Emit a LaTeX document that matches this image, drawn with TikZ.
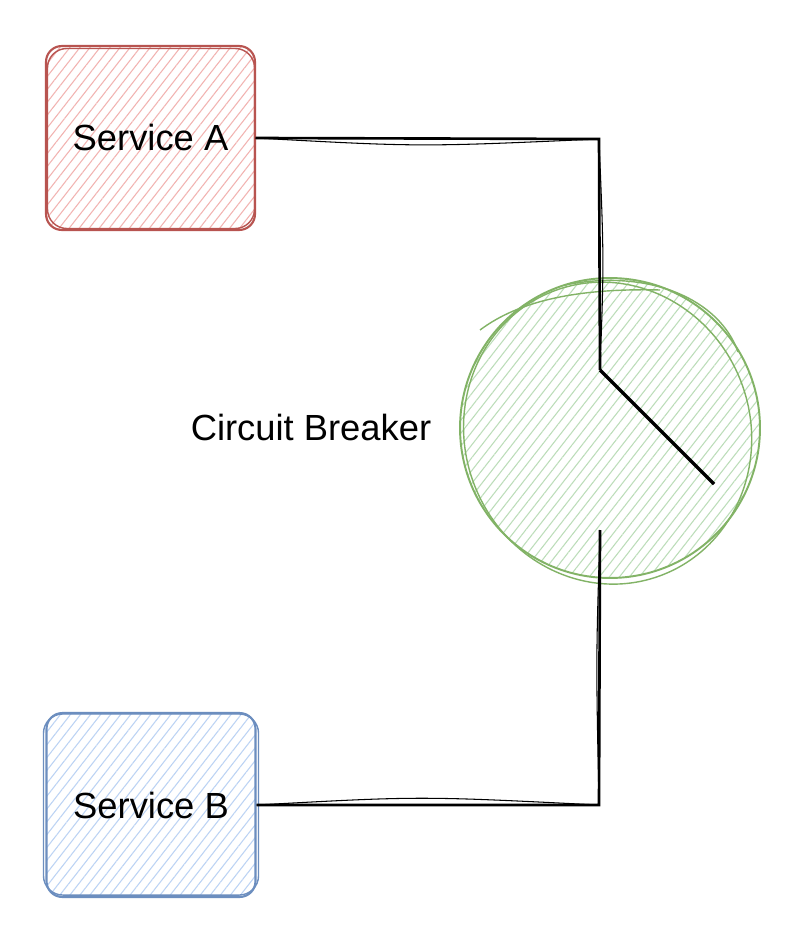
\documentclass[tikz,border=0pt]{standalone}
\usepackage{fontspec}
\setmainfont{Liberation Sans}
\usetikzlibrary{patterns.meta}
\definecolor{redline}{HTML}{B85450}
\definecolor{redfill}{HTML}{F2B3B1}
\definecolor{blueline}{HTML}{6C8EBF}
\definecolor{bluefill}{HTML}{BCD3F4}
\definecolor{greenline}{HTML}{82B366}
\definecolor{greenfill}{HTML}{BCDDB9}
\newcommand{\labelfont}{\fontsize{20.7pt}{24pt}\selectfont}

\begin{document}
\begin{tikzpicture}[x=0.02cm,y=-0.02cm,
	hatch/.style={pattern={Lines[angle=52,distance=4.5pt,line width=0.6pt]},pattern color=#1},
	service/.style={draw, rounded corners=9pt, minimum width=4.18cm, minimum height=3.68cm, line width=1.2pt, font=\labelfont},
	sketch/.style={line width=0.8pt, rounded corners=11pt},
	wire/.style={line width=1.5pt, line join=miter},
	thinwire/.style={line width=0.6pt}]
	\fill [white] (0,0) rectangle (808,946);
	\useasboundingbox (0,0) rectangle (808,946);

	\node [service, redline, hatch=redfill, text=black] (svcA) at (150.5,138) {Service A};
	\node [service, blueline, hatch=bluefill, text=black] (svcB) at (151,805) {Service B};
	\node [draw, circle, greenline, hatch=greenfill, line width=1.1pt, minimum size=6cm] (breaker) at (610,428) {};
	\node [font=\labelfont] (cblabel) at (311,427) {Circuit Breaker};

	\draw [sketch, redline] ([shift={(2,3)}]svcA.north west) rectangle ([shift={(-1,-2)}]svcA.south east);
	\draw [sketch, blueline] ([shift={(-2,2)}]svcB.north west) rectangle ([shift={(2,-3)}]svcB.south east);
	\draw [greenline, line width=0.8pt, rotate around={20:(breaker.center)}] ([shift={(-4,4)}]breaker.center) ellipse [x radius=2.86cm, y radius=3.04cm];
	\draw [greenline, line width=0.8pt] (565,285) .. controls (650,268) and (720,300) .. (738,352);
	\draw [greenline, line width=0.8pt] (480,330) .. controls (520,300) and (580,288) .. (660,290);

	\coordinate (bendA) at (599,139);
	\coordinate (pivot) at (600,370);
	\coordinate (tip) at (714,484);
	\coordinate (bendB) at (599,805);
	\coordinate (gapB) at (600,530);

	\draw [wire] (svcA.east) -- (bendA) -- (pivot);
	\draw [wire, line width=2pt] (pivot) -- (tip);
	\draw [wire] (svcB.east) -- (bendB) -- (gapB);
	\draw [thinwire] (svcA.east) .. controls (420,147) .. (bendA) .. controls (604,260) .. (pivot);
	\draw [thinwire] (svcB.east) .. controls (420,796) .. (bendB) .. controls (596,660) .. (gapB);
\end{tikzpicture}
\end{document}
